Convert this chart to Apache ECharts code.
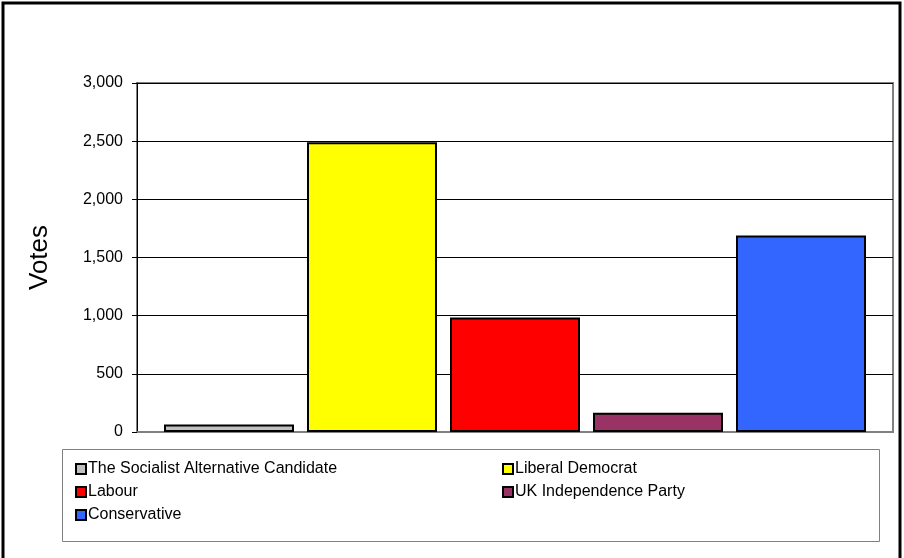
<!DOCTYPE html>
<html>
<head>
<meta charset="utf-8">
<script src="https://cdn.jsdelivr.net/npm/echarts@6/dist/echarts.min.js"></script>
<style>
html,body{margin:0;padding:0;background:#fff;}
#c{width:904px;height:558px;}
</style>
</head>
<body>
<div id="c"></div>
<script>
const categories = ['Votes'];
const parties = ['The Socialist Alternative Candidate', 'Liberal Democrat', 'Labour', 'UK Independence Party', 'Conservative'];
const votes = [65, 2490, 985, 165, 1690];
const colors = ['#C0C0C0', '#FFFF00', '#FF0000', '#993366', '#3366FF'];
const yTicks = [0, 500, 1000, 1500, 2000, 2500, 3000];

const chart = echarts.init(document.getElementById('c'), null, {renderer: 'canvas'});
const font = 'Arial, "Liberation Sans", sans-serif';

const series = parties.map((p, i) => ({
  name: p,
  type: 'bar',
  data: [votes[i]],
  barWidth: 130,
  barGap: '10%',
  itemStyle: {color: colors[i], borderColor: '#000', borderWidth: 2},
  emphasis: {disabled: true},
  animation: false
}));

const legendText = {fontFamily: font, fontSize: 16, color: '#000', lineHeight: 16, padding: [0, 0, 0, -3]};

chart.setOption({
  animation: false,
  backgroundColor: '#fff',
  grid: {left: 137, right: 11, top: 83, bottom: 126, show: true, borderColor: '#808080', borderWidth: 2, backgroundColor: 'transparent'},
  xAxis: {
    type: 'category', data: categories,
    axisLine: {show: true, lineStyle: {color: '#808080', width: 2}},
    axisTick: {show: false}, axisLabel: {show: false}
  },
  yAxis: {
    type: 'value', min: yTicks[0], max: yTicks[yTicks.length - 1], interval: 500,
    name: 'Votes', nameLocation: 'middle', nameGap: 84,
    nameTextStyle: {fontFamily: font, fontSize: 26, color: '#000'},
    axisLine: {show: true, lineStyle: {color: '#000', width: 1}},
    axisTick: {show: true, length: 5, lineStyle: {color: '#000'}},
    axisLabel: {fontFamily: font, fontSize: 16, color: '#000', margin: 14,
      formatter: v => v.toLocaleString('en-US')},
    splitLine: {show: true, lineStyle: {color: '#000', width: 1}}
  },
  legend: [
    {data: [parties[0], parties[2], parties[4]], orient: 'vertical', left: 70, top: 456, itemGap: 7,
     icon: 'rect', itemWidth: 10, itemHeight: 10, textStyle: legendText, selectedMode: false},
    {data: [parties[1], parties[3]], orient: 'vertical', left: 497, top: 456, itemGap: 7,
     icon: 'rect', itemWidth: 10, itemHeight: 10, textStyle: legendText, selectedMode: false}
  ],
  graphic: [
    {type: 'rect', shape: {x: 3, y: 3, width: 897, height: 558}, style: {fill: 'none', stroke: '#000', lineWidth: 3}, silent: true},
    {type: 'rect', shape: {x: 62.5, y: 449.5, width: 817, height: 92}, style: {fill: 'none', stroke: '#808080', lineWidth: 1}, silent: true}
  ],
  series: series
});
</script>
</body>
</html>
